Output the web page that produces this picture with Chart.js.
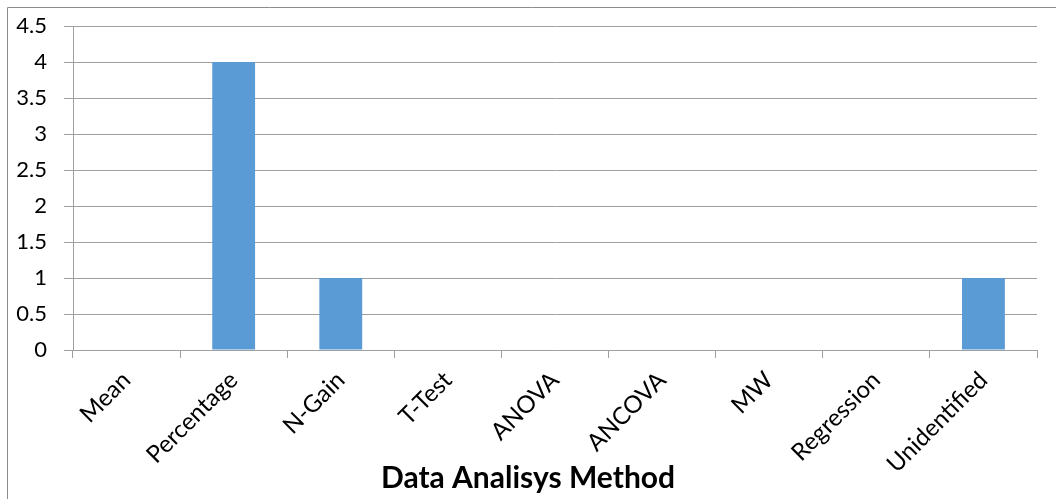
<!DOCTYPE html>
<html>
<head>
<meta charset="utf-8">
<script src="https://cdn.jsdelivr.net/npm/chart.js@4"></script>
<style>
  html, body { margin: 0; padding: 0; background: #fff; }
  #wrap { width: 1056px; height: 499px; }
</style>
</head>
<body>
<div id="wrap"><canvas id="chart"></canvas></div>
<script>
const categories = ["Mean", "Percentage", "N-Gain", "T-Test", "ANOVA", "ANCOVA", "MW", "Regression", "Unidentified"];
const counts = [0, 4, 1, 0, 0, 0, 0, 0, 1];
const axisTitle = "Data Analisys Method";

// outer frame (only top and left edges show) plus the axis title,
// which is centred on the whole picture rather than the plot area
const frame = {
    id: "frame",
    beforeDraw(chart) {
        const ctx = chart.ctx;
        ctx.save();
        ctx.strokeStyle = "#8c8c8c";
        ctx.lineWidth = 1;
        ctx.beginPath();
        ctx.moveTo(7.5, chart.height);
        ctx.lineTo(7.5, 7.5);
        ctx.lineTo(chart.width, 7.5);
        ctx.stroke();
        ctx.restore();
    },
    afterDraw(chart) {
        const ctx = chart.ctx;
        ctx.save();
        ctx.fillStyle = "#000";
        ctx.font = "bold 30px Lato";
        ctx.textAlign = "center";
        ctx.textBaseline = "middle";
        ctx.fillText(axisTitle, chart.width / 2, 478);
        ctx.restore();
    }
};

new Chart(document.getElementById("chart"), {
    type: "bar",
    data: {
        labels: categories,
        datasets: [{
            data: counts,
            backgroundColor: "#5b9bd5",
            barPercentage: 0.4,
            categoryPercentage: 1
        }]
    },
    options: {
        responsive: true,
        maintainAspectRatio: false,
        animation: false,
        layout: { padding: { top: 26, right: 19, left: 0, bottom: 0 } },
        plugins: {
            legend: { display: false },
            tooltip: { enabled: false }
        },
        scales: {
            x: {
                grid: { offset: true, drawOnChartArea: false, color: "#a0a0a0", tickLength: 8 },
                border: { color: "#a0a0a0" },
                ticks: {
                    color: "#000",
                    font: { family: "Lato", size: 24 },
                    minRotation: 45,
                    maxRotation: 45,
                    padding: 8
                },
                afterFit(scale) { scale.height = 149; }
            },
            y: {
                min: 0,
                max: 4.5,
                grid: { color: "#a0a0a0", tickLength: 9 },
                border: { color: "#a0a0a0" },
                ticks: {
                    stepSize: 0.5,
                    color: "#000",
                    font: { family: "Lato", size: 22 },
                    padding: 17,
                    callback: (v) => String(v)
                },
                afterFit(scale) {
                    scale.width = 73;
                    scale.paddingTop = 14;
                }
            }
        }
    },
    plugins: [frame]
});
</script>
</body>
</html>
